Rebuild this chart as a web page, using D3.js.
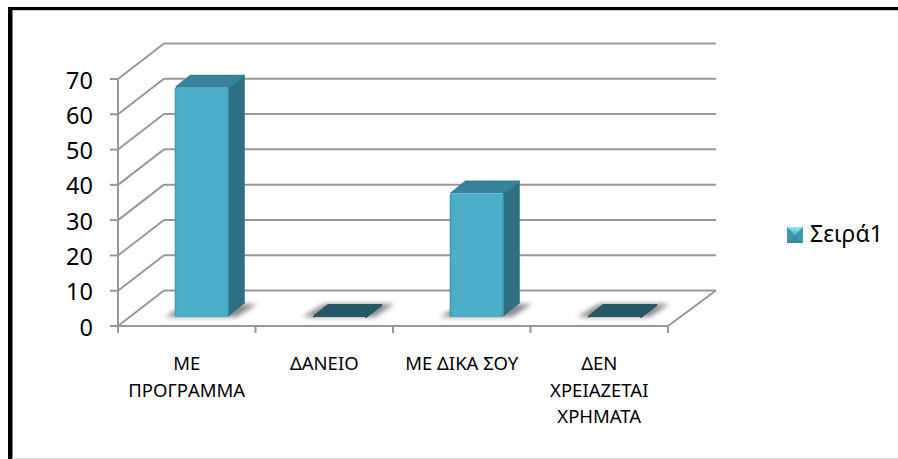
<!DOCTYPE html>
<html>
<head>
<meta charset="utf-8">
<script src="https://d3js.org/d3.v7.min.js"></script>
<style>
  html, body { margin: 0; padding: 0; background: #fff; }
  svg { display: block; font-family: "Noto Sans", sans-serif; }
</style>
</head>
<body>
<svg class="target" width="898" height="459"></svg>
<script>

// values
const categories = ['ΜΕ ΠΡΟΓΡΑΜΜΑ', 'ΔΑΝΕΙΟ', 'ΜΕ ΔΙΚΑ ΣΟΥ', 'ΔΕΝ ΧΡΕΙΑΖΕΤΑΙ ΧΡΗΜΑΤΑ']
const values = [65, 0, 35, 0]
const yTicks = [0, 10, 20, 30, 40, 50, 60, 70]
const seriesName = 'Σειρά1'

const depthX = 46, depthY = 35.5     // how far the back wall is pushed
const barInX = 9.5, barInY = 9       // bar sits a bit behind the front edge
const barDepthX = 16, barDepthY = 13 // depth of the bar itself

const x = d3.scaleBand().domain(categories).range([118, 668])
const y = d3.scaleLinear().domain([0, 70]).range([326, 79])

const svg = d3.select('.target')
const defs = svg.append('defs')

const blur = (id, s) => defs.append('filter').attr('id', id)
    .attr('x', '-30%').attr('y', '-60%').attr('width', '160%').attr('height', '220%')
  .append('feGaussianBlur').attr('stdDeviation', s)
blur('soft', 0.45)
blur('shadow', 2.4)

const frontGrad = defs.append('linearGradient').attr('id', 'front')
frontGrad.selectAll('stop')
  .data([[0, '#3f97b0'], [0.05, '#4cafca'], [0.95, '#4cafca'], [1, '#3f97b0']])
  .join('stop').attr('offset', d => d[0]).attr('stop-color', d => d[1])

const legendGrad = defs.append('linearGradient').attr('id', 'legendTop')
  .attr('x1', 0).attr('x2', 0).attr('y1', 0).attr('y2', 1)
legendGrad.selectAll('stop')
  .data([[0, '#8fe6f7'], [1, '#4cb8d2']])
  .join('stop').attr('offset', d => d[0]).attr('stop-color', d => d[1])

// frame of the pasted picture
svg.append('rect').attr('x', 8).attr('y', 7).attr('width', 890).attr('height', 3.2).attr('fill', '#000')
svg.append('rect').attr('x', 8).attr('y', 7).attr('width', 4.5).attr('height', 452).attr('fill', '#000')
svg.append('line').attr('x1', 12).attr('x2', 898).attr('y1', 458.5).attr('y2', 458.5).attr('stroke', '#ddd')

const grid = svg.append('g')
    .attr('fill', 'none').attr('stroke', '#989898').attr('stroke-width', 2).attr('filter', 'url(#soft)')

// back wall lines + the slanted ones on the side wall
grid.selectAll('line.back')
  .data(yTicks)
  .join('line')
    .attr('class', 'back')
    .attr('x1', x.range()[0] + depthX).attr('x2', x.range()[1] + depthX + 2)
    .attr('y1', d => y(d) - depthY).attr('y2', d => y(d) - depthY)

grid.selectAll('line.side')
  .data(yTicks)
  .join('line')
    .attr('class', 'side')
    .attr('x1', x.range()[0]).attr('x2', x.range()[0] + depthX)
    .attr('y1', d => y(d)).attr('y2', d => y(d) - depthY)

// y axis with left ticks
grid.append('line')
    .attr('x1', x.range()[0]).attr('x2', x.range()[0])
    .attr('y1', y(70)).attr('y2', y(0) + 7)
grid.selectAll('line.ytick')
  .data(yTicks)
  .join('line')
    .attr('class', 'ytick')
    .attr('x1', x.range()[0] - 8).attr('x2', x.range()[0])
    .attr('y1', d => y(d)).attr('y2', d => y(d))

// floor
grid.append('path')
    .attr('d', d3.line()([
      [x.range()[0], y(0)], [x.range()[1], y(0)],
      [x.range()[1] + depthX + 2, y(0) - depthY]
    ]))
grid.selectAll('line.xtick')
  .data(categories.concat('end'))
  .join('line')
    .attr('class', 'xtick')
    .attr('x1', (d, i) => x.range()[0] + i * x.bandwidth())
    .attr('x2', (d, i) => x.range()[0] + i * x.bandwidth())
    .attr('y1', y(0)).attr('y2', y(0) + 7)

// bars
const barWidth = x.bandwidth() * 0.393
const bars = svg.append('g').selectAll('g')
  .data(categories.map((c, i) => ({ name: c, value: values[i] })))
  .join('g')
    .attr('transform', d => `translate(${ x(d.name) + x.bandwidth() / 2 - barWidth / 2 + barInX + 5.5 },${ y(0) - barInY })`)

const h = d => y(0) - y(d.value)

bars.append('path')   // shadow on the floor
    .attr('fill', '#8a8a8a')
    .attr('filter', 'url(#shadow)')
    .attr('d', d3.line()([[-10, 0], [barWidth + 8, 0], [barWidth + barDepthX + 12, -barDepthY], [barDepthX - 4, -barDepthY]]))

const solid = bars.append('g').attr('filter', 'url(#soft)')

solid.append('path')   // right side
    .attr('fill', '#2f6f83')
    .attr('stroke', '#2f6f83').attr('stroke-width', 2).attr('stroke-linejoin', 'round')
    .attr('d', d => d3.line()([[barWidth, -1], [barWidth, -h(d)], [barWidth + barDepthX - 1, -h(d) - barDepthY + 1], [barWidth + barDepthX - 1, -barDepthY]]))

solid.append('path')   // top, dark when the bar is empty
    .attr('fill', d => d.value ? '#37829b' : '#255866')
    .attr('stroke', d => d.value ? '#37829b' : '#255866')
    .attr('stroke-width', 2)
    .attr('stroke-linejoin', 'round')
    .attr('d', d => d3.line()([[1, -h(d)], [barDepthX, -h(d) - barDepthY + 1], [barWidth + barDepthX - 1, -h(d) - barDepthY + 1], [barWidth - 1, -h(d)]]))

solid.append('rect')   // front
    .attr('y', d => -h(d))
    .attr('width', barWidth)
    .attr('height', h)
    .attr('rx', 1.5)
    .attr('fill', 'url(#front)')

// y labels
svg.append('g').selectAll('text')
  .data(yTicks)
  .join('text')
    .attr('x', 93)
    .attr('y', d => y(d) + 9.5)
    .attr('text-anchor', 'end')
    .attr('font-size', 23.5)
    .attr('fill', '#000')
    .text(d => d)

// category labels, wrapped to the band width
const labels = svg.append('g').selectAll('text')
  .data(categories)
  .join('text')
    .attr('text-anchor', 'middle')
    .attr('font-size', 18.5)
    .attr('fill', '#000')

labels.each(function(d) {
  const t = d3.select(this)
  let lineNo = 0
  let span = t.append('tspan')
  const place = s => s.attr('x', x(d) + x.bandwidth() / 2).attr('y', 370 + lineNo * 26.5)
  place(span)
  let line = []
  d.split(' ').forEach(word => {
    line.push(word)
    span.text(line.join(' '))
    if (span.node().getComputedTextLength() > x.bandwidth() - 8 && line.length > 1) {
      line.pop()
      span.text(line.join(' '))
      line = [word]
      lineNo++
      span = t.append('tspan').text(word)
      place(span)
    }
  })
})

// legend
const legend = svg.append('g').attr('transform', 'translate(787,227)')
legend.append('rect').attr('width', 16).attr('height', 16).attr('fill', '#3f97b0')
legend.append('path').attr('fill', 'url(#legendTop)').attr('d', 'M0,0H16L8,8Z')
legend.append('path').attr('fill', '#3a8aa3').attr('d', 'M0,16H16L8,8Z')
legend.append('text')
    .attr('x', 23).attr('y', 14.5)
    .attr('font-size', 23)
    .attr('fill', '#000')
    .text(seriesName)

</script>
</body>
</html>
